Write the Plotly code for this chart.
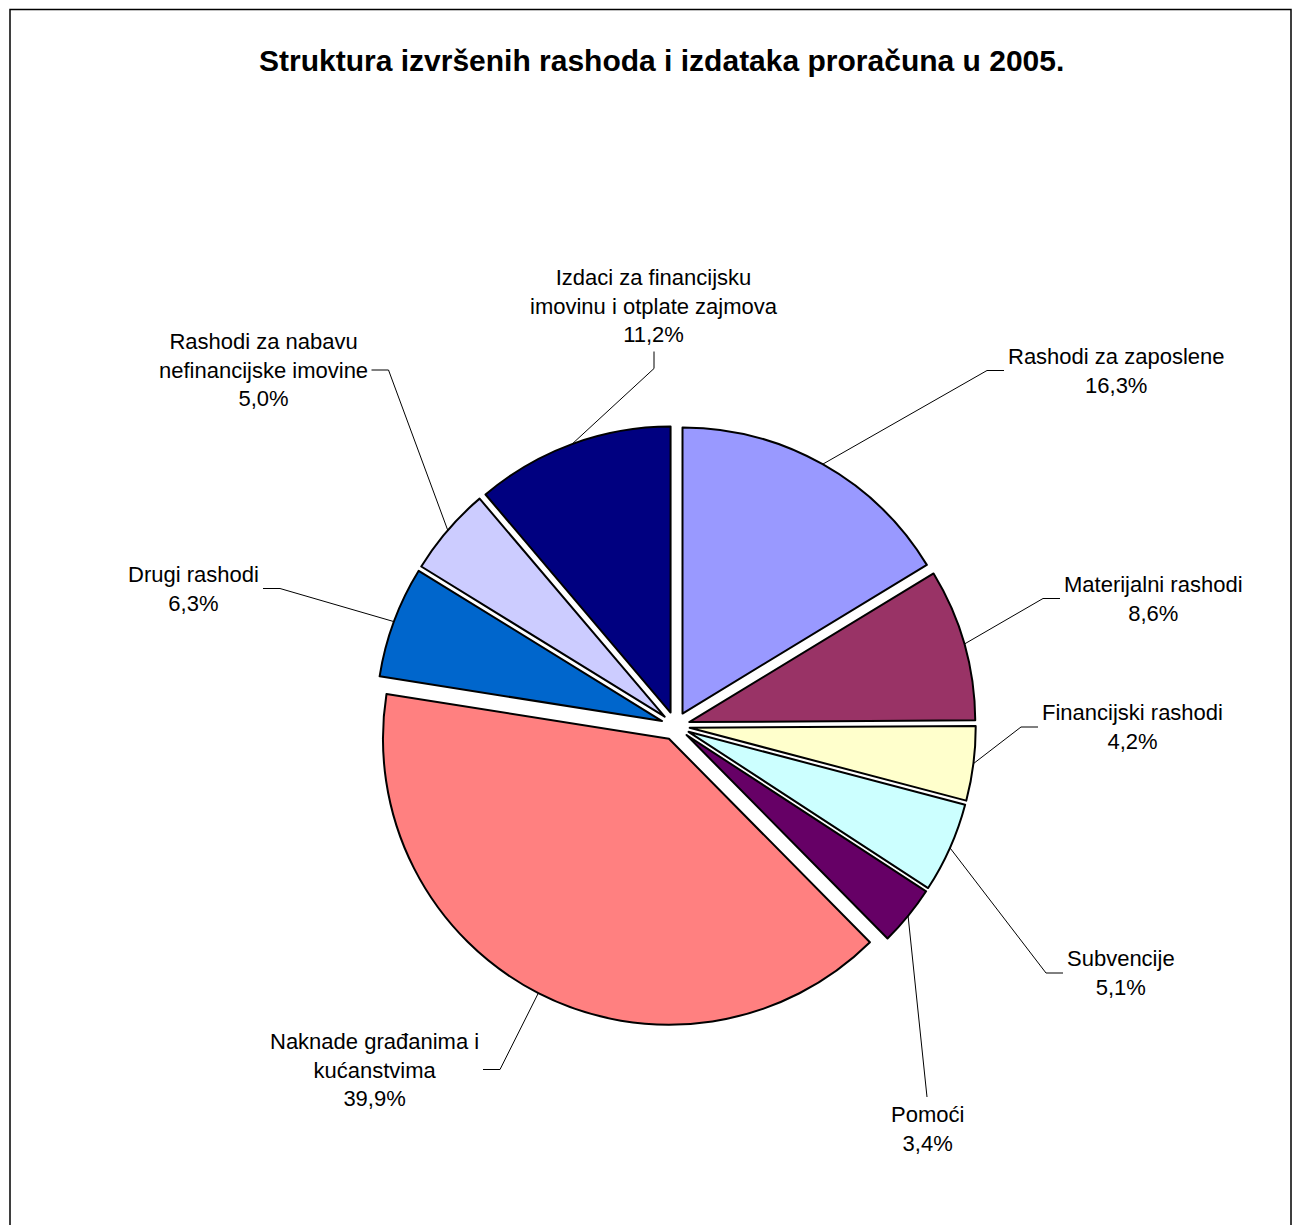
import math
import plotly.graph_objects as go

# ---- data -------------------------------------------------------------
categories = [
    "Rashodi za zaposlene",
    "Materijalni rashodi",
    "Financijski rashodi",
    "Subvencije",
    "Pomoći",
    "Naknade građanima i\nkućanstvima",
    "Drugi rashodi",
    "Rashodi za nabavu\nnefinancijske imovine",
    "Izdaci za financijsku\nimovinu i otplate zajmova",
]
shares = [16.3, 8.6, 4.2, 5.1, 3.4, 39.9, 6.3, 5.0, 11.2]
colors = ["#9999FF", "#993366", "#FFFFCC", "#CCFFFF", "#660066",
          "#FF8080", "#0066CC", "#CCCCFF", "#000080"]
title_text = "Struktura izvršenih rashoda i izdataka proračuna u 2005."

# ---- layout geometry (pixels) ----------------------------------------
W, H = 1301, 1225
CX, CY = 675.5, 726.0      # pie centre
R = 286.0                  # pie radius
PULL = 0.05                # every slice is exploded by the same fraction
BOX = R * (1 + PULL)       # half-size of the pie domain box

FONT = "Arial, 'Liberation Sans', sans-serif"
TAIL = 17                  # length of the short leader segment next to a label

# where each leader line ends next to its label, and on which side the label sits
label_side = ["right", "right", "right", "right", "bottom",
              "left", "left", "left", "top"]
tail_end = [(1004, 370.5), (1060, 598.5), (1038, 727), (1063, 973),
            (927, 1097), (483, 1069.5), (263, 588.5), (371.5, 370),
            (654, 351.5)]


def px(x):
    return x / W


def py(y):
    return 1 - y / H


def fmt_pct(v):
    return f"{v:.1f}".replace(".", ",") + "%"


names = [c.replace("\n", " ") for c in categories]

fig = go.Figure(go.Pie(
    labels=names,
    values=shares,
    sort=False,
    direction="clockwise",
    rotation=0,
    pull=[PULL] * len(shares),
    marker=dict(colors=colors, line=dict(color="#000000", width=2)),
    textinfo="none",
    hoverinfo="label+percent",
    showlegend=False,
    domain=dict(x=[px(CX - BOX), px(CX + BOX)],
                y=[py(CY + BOX), py(CY - BOX)]),
))

shapes = []
annotations = []

total = sum(shares)
cum = 0.0
for i, v in enumerate(shares):
    mid = (cum + v / 2) / total * 2 * math.pi   # clockwise from 12 o'clock
    cum += v
    dx, dy = math.sin(mid), -math.cos(mid)
    # point on the arc of the exploded slice
    ax = CX + (R + PULL * R) * dx
    ay = CY + (R + PULL * R) * dy

    ex, ey = tail_end[i]
    side = label_side[i]
    if side == "right":
        elbow = (ex - TAIL, ey)
    elif side == "left":
        elbow = (ex + TAIL, ey)
    elif side == "top":
        elbow = (ex, ey + TAIL)
    else:
        elbow = (ex, ey)

    path = (f"M {px(ax)},{py(ay)} L {px(elbow[0])},{py(elbow[1])} "
            f"L {px(ex)},{py(ey)}")
    shapes.append(dict(type="path", xref="paper", yref="paper", path=path,
                       line=dict(color="#000000", width=1)))

    text = categories[i].replace("\n", "<br>") + "<br>" + fmt_pct(v)
    if side == "right":
        ann = dict(x=px(ex + 2), y=py(ey), xanchor="left", yanchor="middle")
    elif side == "left":
        ann = dict(x=px(ex - 2), y=py(ey), xanchor="right", yanchor="middle")
    elif side == "top":
        ann = dict(x=px(ex), y=py(ey - 3), xanchor="center", yanchor="bottom")
    else:
        ann = dict(x=px(ex), y=py(ey + 3), xanchor="center", yanchor="top")
    ann.update(xref="paper", yref="paper", text=text, showarrow=False,
               align="center", font=dict(family=FONT, size=22, color="#000000"))
    annotations.append(ann)

# chart title
annotations.append(dict(
    x=px(661), y=py(60), xref="paper", yref="paper",
    xanchor="center", yanchor="middle", showarrow=False,
    text=f"<b>{title_text}</b>",
    font=dict(family=FONT, size=30, color="#000000"),
))

# outer frame of the chart area
shapes.append(dict(type="rect", xref="paper", yref="paper",
                   x0=px(10), x1=px(1291), y0=py(1240), y1=py(9.5),
                   line=dict(color="#000000", width=1.5)))

fig.update_layout(
    width=W, height=H,
    margin=dict(l=0, r=0, t=0, b=0),
    paper_bgcolor="#FFFFFF",
    plot_bgcolor="#FFFFFF",
    shapes=shapes,
    annotations=annotations,
)

fig.write_html("out.html")
